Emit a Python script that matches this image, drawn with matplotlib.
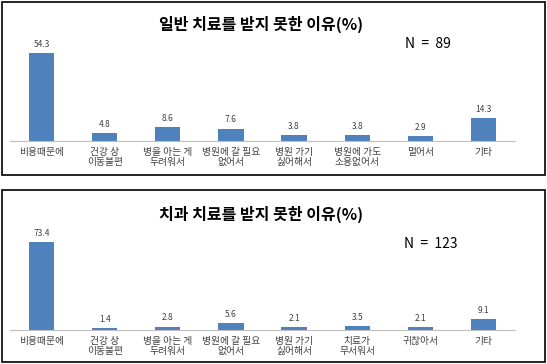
import matplotlib
matplotlib.use('Agg')
import matplotlib.pyplot as plt
from matplotlib.patches import Rectangle

plt.rcParams['font.family'] = ['Noto Sans CJK KR', 'DejaVu Sans']

# data
labels_general = ['비용때문에', '건강 상\n이동불편', '병을 아는 게\n두려워서', '병원에 갈 필요\n없어서',
                  '병원 가기\n싫어해서', '병원에 가도\n소용없어서', '멀어서', '기타']
values_general = [54.3, 4.8, 8.6, 7.6, 3.8, 3.8, 2.9, 14.3]
title_general = '일반 치료를 받지 못한 이유(%)'
n_general = 'N  =  89'

labels_dental = ['비용때문에', '건강 상\n이동불편', '병을 아는 게\n두려워서', '병원에 갈 필요\n없어서',
                 '병원 가기\n싫어해서', '치료가\n무서워서', '귀찮아서', '기타']
values_dental = [73.4, 1.4, 2.8, 5.6, 2.1, 3.5, 2.1, 9.1]
title_dental = '치과 치료를 받지 못한 이유(%)'
n_dental = 'N  =  123'

W, H = 547, 364
fig = plt.figure(figsize=(W / 100, H / 100), dpi=100)
fig.patch.set_facecolor('white')


def px(x0, y0, w, h):
    # pixel box (top-left origin) -> figure fraction
    return [x0 / W, 1 - (y0 + h) / H, w / W, h / H]


def panel(box, ax_box, labels, values, title, n_text, title_xy, n_xy):
    bx = px(*box)
    fig.patches.append(Rectangle((bx[0], bx[1]), bx[2], bx[3], transform=fig.transFigure,
                                 fill=False, edgecolor='black', linewidth=1.2))
    ax = fig.add_axes(px(*ax_box))
    x = range(len(values))
    ax.bar(x, values, width=0.4, color='#4F81BD')
    top = max(values) * ax_box[3] / 88
    ax.set_ylim(0, top)
    ax.set_xlim(-0.5, len(values) - 0.5)
    for xi, v in zip(x, values):
        ax.text(xi, v + top * 0.045, f'{v}', ha='center', va='bottom', fontsize=6, color='#404040')
    ax.set_xticks(list(x))
    ax.set_xticklabels(labels, fontsize=7, color='#404040', linespacing=1.05)
    ax.tick_params(axis='x', length=0, pad=4)
    ax.set_yticks([])
    for s in ['top', 'right', 'left']:
        ax.spines[s].set_visible(False)
    ax.spines['bottom'].set_color('#bfbfbf')
    ax.patch.set_alpha(0)
    fig.text(title_xy[0] / W, 1 - title_xy[1] / H, title, ha='center', va='center',
             fontsize=11.5, fontweight='bold')
    fig.text(n_xy[0] / W, 1 - n_xy[1] / H, n_text, ha='left', va='center', fontsize=10)
    return ax


panel((2, 2, 543, 173), (10, 46, 505, 95), labels_general, values_general,
      title_general, n_general, (261, 24), (405, 44))
panel((2, 190, 543, 172), (10, 235, 505, 95), labels_dental, values_dental,
      title_dental, n_dental, (261, 214), (404, 244))

fig.savefig('out.png', dpi=100)
